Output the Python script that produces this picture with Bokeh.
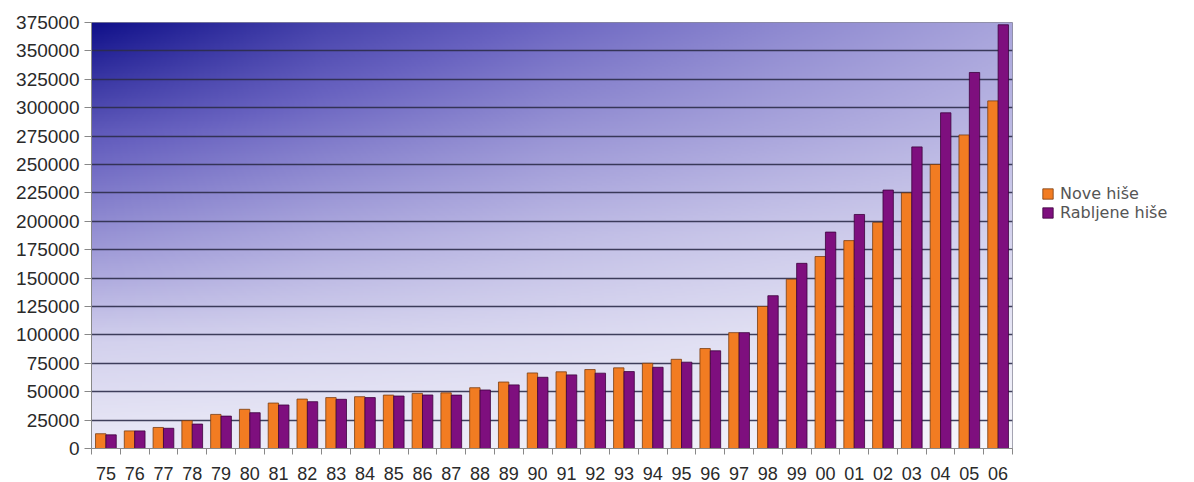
import numpy as np
from bokeh.plotting import figure
from bokeh.layouts import row
from bokeh.models import (ColumnDataSource, Range1d, FixedTicker, NumeralTickFormatter,
                          Legend, LegendItem)
from bokeh.transform import dodge
from bokeh.embed import file_html
from bokeh.resources import INLINE

# ---------------- data ----------------
years = ["75", "76", "77", "78", "79", "80", "81", "82", "83", "84", "85", "86", "87",
         "88", "89", "90", "91", "92", "93", "94", "95", "96", "97", "98", "99", "00",
         "01", "02", "03", "04", "05", "06"]
nove = [13000, 15500, 18500, 24500, 30000, 34500, 40000, 43500, 44800, 45600, 47000,
        48500, 49000, 53500, 58500, 66500, 67500, 69500, 71000, 75000, 78500, 88000,
        102000, 125000, 149000, 169000, 183000, 199000, 225000, 250000, 276000, 306000]
rabljene = [12000, 15500, 17800, 21500, 28500, 31500, 38300, 41200, 43300, 44800, 46200,
            47100, 47000, 51500, 56000, 62700, 64800, 66300, 67700, 71500, 76000, 86000,
            102000, 134500, 163000, 190500, 206000, 227500, 265500, 295500, 331000, 373000]
series_labels = ["Nove hiše", "Rabljene hiše"]
series_colors = ["#f27c22", "#7e0f7e"]
series_edges = ["#7a3e12", "#3c003c"]
y_ticks = list(range(0, 375001, 25000))

idx = list(range(len(years)))
n = len(years)

p = figure(width=1014, height=482, output_backend="svg", toolbar_location=None,
           x_range=Range1d(-0.5, n - 0.5), y_range=Range1d(0, 375000),
           min_border_left=91, min_border_right=2, min_border_top=22,
           min_border_bottom=34, border_fill_color="white", background_fill_color="white")

# ---------------- gradient background ----------------
H, W = 240, 480
tg = np.array([
    [0.00, 0.25, 0.42, 0.56, 0.68],
    [0.35, 0.48, 0.60, 0.68, 0.76],
    [0.60, 0.70, 0.77, 0.82, 0.86],
    [0.85, 0.87, 0.89, 0.92, 0.94],
    [0.95, 0.96, 0.97, 0.98, 1.00],
])
gpos = np.linspace(0, 1, 5)
u = np.linspace(0, 1, W)
v = np.linspace(0, 1, H)  # from top
rows_u = np.array([np.interp(u, gpos, tg[k]) for k in range(5)])  # (5, W)
T = np.empty((H, W))
for j in range(W):
    T[:, j] = np.interp(v, gpos, rows_u[:, j])
stops_t = [0.0, 0.4, 0.7, 1.0]
R = np.interp(T, stops_t, [16, 104, 174, 247])
G = np.interp(T, stops_t, [16, 98, 170, 247])
B = np.interp(T, stops_t, [138, 192, 222, 252])
img = np.empty((H, W), dtype=np.uint32)
view = img.view(dtype=np.uint8).reshape((H, W, 4))
view[:, :, 0] = R.astype(np.uint8)
view[:, :, 1] = G.astype(np.uint8)
view[:, :, 2] = B.astype(np.uint8)
view[:, :, 3] = 255
img = img[::-1].copy()
p.image_rgba(image=[img], x=-0.5, y=0, dw=n, dh=375000, level="image")

# ---------------- bars ----------------
src = ColumnDataSource(dict(x=idx, nove=nove, rab=rabljene))
r1 = p.vbar(x=dodge("x", -0.18, range=p.x_range), top="nove", width=0.36, source=src,
            fill_color=series_colors[0], line_color=series_edges[0], line_width=0.8)
r2 = p.vbar(x=dodge("x", 0.18, range=p.x_range), top="rab", width=0.36, source=src,
            fill_color=series_colors[1], line_color=series_edges[1], line_width=0.8)

# ---------------- axes ----------------
p.xaxis.ticker = FixedTicker(ticks=idx, minor_ticks=[i - 0.5 for i in range(n + 1)])
p.xaxis.major_label_overrides = {i: y for i, y in enumerate(years)}
p.xaxis.major_tick_out = 0
p.xaxis.major_tick_in = 0
p.xaxis.minor_tick_out = 6
p.xaxis.minor_tick_in = 0
p.xaxis.minor_tick_line_color = "#888888"
p.xaxis.major_label_standoff = 12
p.xaxis.major_label_text_font_size = "18px"
p.xgrid.visible = False

p.yaxis.ticker = FixedTicker(ticks=y_ticks, minor_ticks=[])
p.yaxis.formatter = NumeralTickFormatter(format="0")
p.yaxis.major_tick_out = 7
p.yaxis.major_tick_in = 0
p.yaxis.minor_tick_out = 0
p.yaxis.minor_tick_in = 0
p.yaxis.major_tick_line_color = "#888888"
p.yaxis.major_label_standoff = 5
p.yaxis.major_label_text_font_size = "19px"
p.ygrid.ticker = FixedTicker(ticks=y_ticks, minor_ticks=[])
p.ygrid.grid_line_color = "#2c2c4a"
p.ygrid.grid_line_width = 1.6
p.ygrid.grid_line_alpha = 0.9

for ax in (p.xaxis, p.yaxis):
    ax.axis_line_color = "#888888"
    ax.major_label_text_font = "Liberation Sans"
    ax.major_label_text_color = "#2a2a2a"
p.outline_line_color = "#8a8a9a"

# ---------------- legend (side panel figure) ----------------
# The legend lives in a narrow companion figure; its renderers share the
# chart's data but the figure's ranges keep the bars themselves out of view.
pl = figure(width=180, height=482, output_backend="svg", toolbar_location=None,
            x_range=Range1d(-60, -59), y_range=Range1d(-2, -1), min_border=0,
            border_fill_color="white", background_fill_color="white")
pl.axis.visible = False
pl.grid.visible = False
pl.outline_line_color = None
l1 = pl.vbar(x="x", top="nove", width=0.36, source=src,
             fill_color=series_colors[0], line_color=series_edges[0], line_width=0.8)
l2 = pl.vbar(x="x", top="rab", width=0.36, source=src,
             fill_color=series_colors[1], line_color=series_edges[1], line_width=0.8)
legend = Legend(items=[LegendItem(label=series_labels[0], renderers=[l1]),
                       LegendItem(label=series_labels[1], renderers=[l2])],
                location=(27, 226), padding=0, margin=0, glyph_width=13, glyph_height=13,
                label_height=13, spacing=0, label_standoff=6,
                label_text_font="DejaVu Sans", label_text_font_size="16px",
                label_text_color="#555555", label_text_baseline="middle",
                border_line_color=None, background_fill_alpha=0)
pl.add_layout(legend)

layout = row(p, pl, spacing=0)
open("out.html", "w").write(file_html(layout, INLINE))
